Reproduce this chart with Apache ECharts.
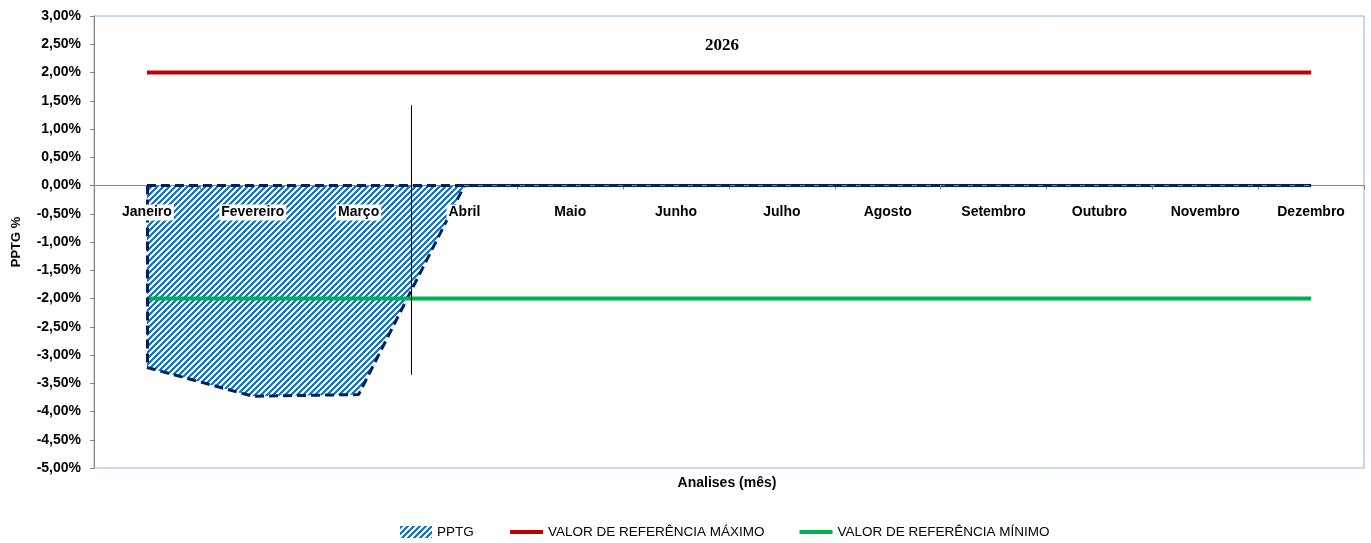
<!DOCTYPE html>
<html>
<head>
<meta charset="utf-8">
<script src="https://cdn.jsdelivr.net/npm/echarts@6/dist/echarts.min.js"></script>
<style>
html, body { margin: 0; padding: 0; background: #fff; }
#chart { width: 1371px; height: 543px; }
</style>
</head>
<body>
<div id="chart"></div>
<script>
var months	= ['Janeiro', 'Fevereiro', 'Março', 'Abril', 'Maio', 'Junho', 'Julho', 'Agosto', 'Setembro', 'Outubro', 'Novembro', 'Dezembro'];
var pptg	= [-3.22, -3.73, -3.70, 0, 0, 0, 0, 0, 0, 0, 0, 0];
var ref_max	= [2, 2, 2, 2, 2, 2, 2, 2, 2, 2, 2, 2];
var ref_min	= [-2, -2, -2, -2, -2, -2, -2, -2, -2, -2, -2, -2];
var y_range	= [-5, 3, 0.5];
var cursor_months	= ['Março', 'Abril'];	// vertical marker sits between these
var cursor_range	= [1.42, -3.35];

var font = '"Liberation Sans", Arial, sans-serif';

// diagonal hatch used for the PPTG area
function make_hatch() {
    var s = 6;
    var c = document.createElement('canvas');
    c.width = s;
    c.height = s;
    var ctx = c.getContext('2d');
    var img = ctx.createImageData(s, s);
    for (var y = 0; y < s; y++) {
	for (var x = 0; x < s; x++) {
	    var i = (y * s + x) * 4;
	    var on = ((x + y) % s) < 3;
	    img.data[i]     = on ? 0x1a : 255;
	    img.data[i + 1] = on ? 0x74 : 255;
	    img.data[i + 2] = on ? 0xc4 : 255;
	    img.data[i + 3] = 255;
	}
    }
    ctx.putImageData(img, 0, 0);
    return { image: c, repeat: 'repeat' };
}
var hatch = make_hatch();

function pct(v) {
    return v.toFixed(2).replace('.', ',') + '%';
}

// top edge of the area outline (the baseline of the area)
var pptg_top = pptg.map(function() { return 0; });

var dash = [9, 5];
var chart = echarts.init(document.getElementById('chart'));
var option = {
    animation: false,
    title: [
	{
	    text: '2026',
	    left: 717,
	    top: 32,
	    textAlign: 'center',
	    textStyle: { fontFamily: '"Liberation Serif", "Times New Roman", serif', fontSize: 17, fontWeight: 'bold', color: '#000' }
	},
	{
	    text: 'Analises (mês)',
	    left: 722,
	    top: 471,
	    textAlign: 'center',
	    textStyle: { fontFamily: font, fontSize: 14, fontWeight: 'bold', color: '#000' }
	}
    ],
    grid: {
	left: 94,
	right: 7,
	top: 16,
	bottom: 75,
	outerBoundsMode: 'none',
	show: true,
	borderColor: '#8eb4e3',
	borderWidth: 1
    },
    legend: [
	{
	    bottom: 4,
	    left: 400,
	    padding: 0,
	    itemWidth: 32,
	    itemHeight: 12,
	    itemGap: 5,
	    textStyle: { fontFamily: font, fontSize: 13.5, color: '#000' },
	    data: [
		{ name: 'PPTG', icon: 'rect', itemStyle: { color: hatch, borderWidth: 0 } }
	    ]
	},
	{
	    bottom: 4,
	    left: 510,
	    padding: 0,
	    itemWidth: 33,
	    itemHeight: 4,
	    itemGap: 35,
	    textStyle: { fontFamily: font, fontSize: 13.5, color: '#000' },
	    data: [
		{ name: 'VALOR DE REFERÊNCIA MÁXIMO', icon: 'rect', itemStyle: { color: '#c00000' } },
		{ name: 'VALOR DE REFERÊNCIA MÍNIMO', icon: 'rect', itemStyle: { color: '#00b050' } }
	    ]
	}
    ],
    xAxis: {
	type: 'category',
	data: months,
	boundaryGap: true,
	z: 6,
	axisLine: { onZero: true, lineStyle: { color: '#868686', width: 1 } },
	axisTick: { show: true, length: 4, lineStyle: { color: '#868686' } },
	axisLabel: {
	    margin: 19,
	    fontFamily: font,
	    fontSize: 14,
	    fontWeight: 'bold',
	    color: '#000',
	    interval: 0,
	    backgroundColor: '#fff',
	    padding: [1, 2, 1, 2]
	},
	splitLine: { show: false }
    },
    yAxis: {
	type: 'value',
	min: y_range[0],
	max: y_range[1],
	interval: y_range[2],
	name: 'PPTG %',
	nameLocation: 'middle',
	nameGap: 71,
	nameTextStyle: { fontFamily: font, fontSize: 13, fontWeight: 'bold', color: '#000' },
	axisLine: { show: true, lineStyle: { color: '#868686', width: 1 } },
	axisTick: { show: true, length: 4, lineStyle: { color: '#868686' } },
	axisLabel: { formatter: pct, margin: 13, fontFamily: font, fontSize: 14, fontWeight: 'bold', color: '#000' },
	splitLine: { show: false }
    },
    series: [
	{
	    name: 'PPTG',
	    type: 'line',
	    data: pptg,
	    symbol: 'none',
	    z: 2,
	    itemStyle: { color: '#1a74c4' },
	    lineStyle: { color: '#002060', width: 3, type: dash },
	    areaStyle: { color: hatch, opacity: 1 },
	    markLine: {
		silent: true,
		symbol: 'none',
		label: { show: false },
		lineStyle: { color: '#002060', width: 3, type: dash },
		data: [[{ coord: [0, 0] }, { coord: [0, pptg[0]] }]]
	    }
	},
	{
	    name: 'PPTG borda',
	    type: 'line',
	    data: pptg_top,
	    symbol: 'none',
	    z: 7,
	    lineStyle: { color: '#002060', width: 3, type: dash }
	},
	{
	    name: 'VALOR DE REFERÊNCIA MÁXIMO',
	    type: 'line',
	    data: ref_max,
	    symbol: 'none',
	    z: 4,
	    itemStyle: { color: '#c00000' },
	    lineStyle: { color: '#c00000', width: 4 }
	},
	{
	    name: 'VALOR DE REFERÊNCIA MÍNIMO',
	    type: 'line',
	    data: ref_min,
	    symbol: 'none',
	    z: 4,
	    itemStyle: { color: '#00b050' },
	    lineStyle: { color: '#00b050', width: 4 }
	}
    ]
};
chart.setOption(option);

// month labels sit just under the zero line, as in the sheet
var zero_y = chart.convertToPixel({ yAxisIndex: 0 }, 0);
var bottom_y = chart.convertToPixel({ yAxisIndex: 0 }, y_range[0]);
// vertical marker between the two months
var x1 = chart.convertToPixel({ xAxisIndex: 0 }, cursor_months[0]);
var x2 = chart.convertToPixel({ xAxisIndex: 0 }, cursor_months[1]);
var y1 = chart.convertToPixel({ yAxisIndex: 0 }, cursor_range[0]);
var y2 = chart.convertToPixel({ yAxisIndex: 0 }, cursor_range[1]);
var cx = Math.floor((x1 + x2) / 2) + 0.5;
chart.setOption({
    xAxis: { axisLabel: { margin: 19 - (bottom_y - zero_y) } },
    graphic: [{
	type: 'line',
	z: 10,
	shape: { x1: cx, y1: y1, x2: cx, y2: y2 },
	style: { stroke: '#000', lineWidth: 1 }
    }]
});
</script>
</body>
</html>
